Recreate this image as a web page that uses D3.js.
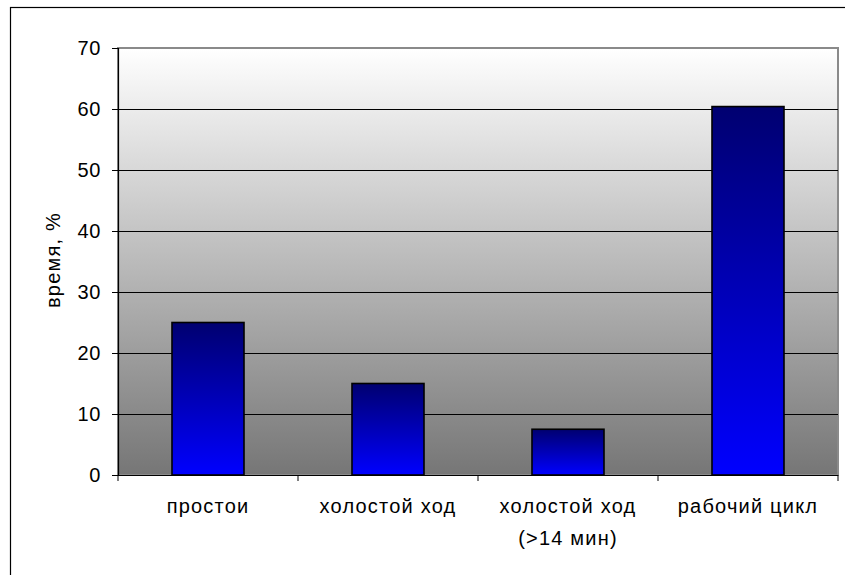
<!DOCTYPE html>
<html><head><meta charset="utf-8">
<script src="https://cdn.jsdelivr.net/npm/d3@7"></script>
<style>
html,body{margin:0;padding:0;background:#fff;overflow:hidden;}
text{font-family:"Liberation Sans",Arial,sans-serif;fill:#000;}
</style></head>
<body>
<svg id="chart" width="845" height="575"></svg>
<script>
const categories = [["простои"], ["холостой ход"], ["холостой ход", "(>14 мин)"], ["рабочий цикл"]];
const categoryKeys = ["простои", "холостой ход", "холостой ход (>14 мин)", "рабочий цикл"];
const values = [25, 15, 7.5, 60.4];
const yTicks = [0, 10, 20, 30, 40, 50, 60, 70];
const yTitle = "время, %";

(function(){
const svg = d3.select("#chart");
const pLeft = 118, pRight = 838, pTop = 48, pBottom = 475;
const fs = 20, ls = "1.2px";

const defs = svg.append("defs");
const bg = defs.append("linearGradient").attr("id","bg").attr("x1",0).attr("y1",0).attr("x2",0).attr("y2",1);
bg.append("stop").attr("offset","0%").attr("stop-color","#ffffff");
bg.append("stop").attr("offset","100%").attr("stop-color","#767676");
const bar = defs.append("linearGradient").attr("id","bar").attr("x1",0).attr("y1",0).attr("x2",0).attr("y2",1);
bar.append("stop").attr("offset","0%").attr("stop-color","#000070");
bar.append("stop").attr("offset","100%").attr("stop-color","#0000ff");

// outer chart border (clipped at right/bottom)
svg.append("rect").attr("x",10.5).attr("y",7.5).attr("width",900).attr("height",700)
  .attr("fill","#fff").attr("stroke","#000").attr("stroke-width",1.2);

const x = d3.scaleBand().domain(categoryKeys).range([pLeft,pRight]).paddingInner(0.6).paddingOuter(0.3);
const y = d3.scaleLinear().domain([0,70]).range([pBottom,pTop]);

// plot area
svg.append("rect").attr("x",pLeft).attr("y",pTop).attr("width",pRight-pLeft).attr("height",pBottom-pTop)
  .attr("fill","url(#bg)").attr("stroke","#8a8a8a").attr("stroke-width",2);

// gridlines
svg.append("g").selectAll("line").data(yTicks.filter(d=>d>0 && d<70)).join("line")
  .attr("x1",pLeft).attr("x2",pRight).attr("y1",d=>Math.round(y(d))+0.5).attr("y2",d=>Math.round(y(d))+0.5)
  .attr("stroke","#000").attr("stroke-width",1);

// bars
svg.append("g").selectAll("rect").data(values).join("rect")
  .attr("x",(d,i)=>x(categoryKeys[i])).attr("width",x.bandwidth())
  .attr("y",d=>y(d)).attr("height",d=>y(0)-y(d))
  .attr("fill","url(#bar)").attr("stroke","#000").attr("stroke-width",1.6);

// y axis
const yAxis = d3.axisLeft(y).tickValues(yTicks).tickSize(6).tickPadding(11).tickFormat(d3.format("d"));
const gy = svg.append("g").attr("transform",`translate(${pLeft},0)`).call(yAxis);
gy.select(".domain").attr("stroke","#000").attr("stroke-width",1.2);
gy.selectAll(".tick line").attr("stroke","#000");
gy.selectAll(".tick text").attr("font-size",fs).attr("letter-spacing","0.6px").attr("font-family",null).attr("fill","#000");

// x axis
const gx = svg.append("g").attr("transform",`translate(0,${pBottom})`);
gx.append("line").attr("x1",pLeft).attr("x2",pRight).attr("y1",0.5).attr("y2",0.5).attr("stroke","#000").attr("stroke-width",1.2);
const bounds = categoryKeys.map(k=>x(k)-x.step()*x.paddingInner()/2).concat([pRight]);
bounds[0] = pLeft;
gx.selectAll("line.t").data(bounds).join("line").attr("class","t")
  .attr("x1",d=>d).attr("x2",d=>d).attr("y1",0).attr("y2",6).attr("stroke","#000");
gx.selectAll("text.c").data(categories).join("text").attr("class","c")
  .attr("x",(d,i)=>x(categoryKeys[i])+x.bandwidth()/2)
  .attr("text-anchor","middle").attr("font-size",fs).attr("letter-spacing",ls)
  .each(function(d){
    const t = d3.select(this);
    d.forEach((line,j)=>{
      t.append("tspan").attr("x",t.attr("x")).attr("y",38 + j*32).text(line);
    });
  });

// y title
svg.append("text").attr("transform","translate(60,260) rotate(-90)")
  .attr("text-anchor","middle").attr("font-size",fs).attr("letter-spacing",ls).text(yTitle);
})();
</script>
</body></html>
